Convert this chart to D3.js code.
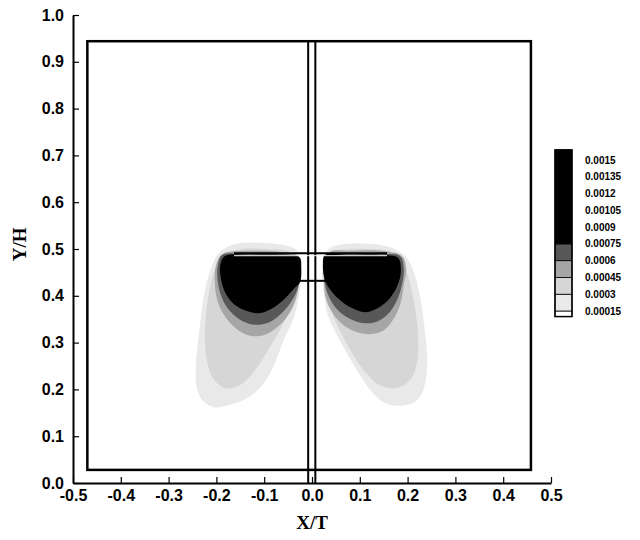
<!DOCTYPE html>
<html><head><meta charset="utf-8">
<script src="https://cdn.jsdelivr.net/npm/d3@7"></script>
<style>body{margin:0;background:#fff}svg{display:block}</style>
</head><body>
<svg id="c" width="640" height="540"></svg>
<script>
// ---- data ----
const xTickValues = [-0.5,-0.4,-0.3,-0.2,-0.1,0.0,0.1,0.2,0.3,0.4,0.5];
const yTickValues = [0.0,0.1,0.2,0.3,0.4,0.5,0.6,0.7,0.8,0.9,1.0];
const legendLevels = [0.00015,0.0003,0.00045,0.0006,0.00075,0.0009,0.00105,0.0012,0.00135,0.0015];
const legendLabels = ["0.00015","0.0003","0.00045","0.0006","0.00075","0.0009","0.00105","0.0012","0.00135","0.0015"];
const legendRange = [0.0001,0.00159];
const fillLevels = [0.00015,0.0003,0.00045,0.0006,0.00075];
const fillColors = ["#e9e9e9","#d6d6d6","#a6a6a6","#585858","#000000"];

// domain geometry (X/T, Y/H)
const domainBox = [[-0.47,0.028],[0.458,0.944]];
const slotX = [-0.008,0.007];
const slotY = [0.0,0.944];
const bladeTop = {x:[-0.163,0.157], y:0.491};
const bladeLow = {x:[-0.029,0.031], y:0.432};

// contour outlines, one per level (>= fillLevels[i])
const leftL1 = [[-0.167,0.509],[-0.197,0.489],[-0.211,0.459],[-0.224,0.412],[-0.232,0.359],[-0.238,0.306],[-0.243,0.252],[-0.241,0.203],[-0.228,0.175],[-0.205,0.162],[-0.172,0.167],[-0.134,0.182],[-0.096,0.220],[-0.075,0.263],[-0.059,0.306],[-0.040,0.348],[-0.029,0.391],[-0.023,0.434],[-0.023,0.472],[-0.033,0.498],[-0.077,0.511]];
const leftL2 = [[-0.159,0.498],[-0.188,0.481],[-0.205,0.451],[-0.215,0.408],[-0.222,0.359],[-0.224,0.310],[-0.220,0.263],[-0.207,0.224],[-0.182,0.203],[-0.151,0.209],[-0.119,0.241],[-0.092,0.284],[-0.067,0.327],[-0.046,0.370],[-0.033,0.408],[-0.027,0.444],[-0.029,0.476],[-0.046,0.494],[-0.098,0.500]];
const leftL3 = [[-0.188,0.489],[-0.201,0.464],[-0.203,0.423],[-0.197,0.387],[-0.180,0.353],[-0.155,0.327],[-0.126,0.314],[-0.096,0.318],[-0.067,0.338],[-0.046,0.365],[-0.033,0.395],[-0.027,0.425],[-0.025,0.459],[-0.029,0.485],[-0.067,0.494],[-0.130,0.496]];
const leftL4 = [[-0.188,0.487],[-0.197,0.464],[-0.197,0.429],[-0.188,0.395],[-0.172,0.368],[-0.146,0.346],[-0.117,0.338],[-0.088,0.344],[-0.063,0.363],[-0.044,0.387],[-0.031,0.412],[-0.025,0.444],[-0.025,0.481],[-0.056,0.489],[-0.130,0.489]];
const leftL5 = [[-0.182,0.485],[-0.192,0.464],[-0.190,0.434],[-0.180,0.404],[-0.163,0.382],[-0.138,0.368],[-0.109,0.363],[-0.082,0.374],[-0.056,0.395],[-0.036,0.417],[-0.025,0.429],[-0.023,0.466],[-0.027,0.483],[-0.067,0.487],[-0.130,0.487]];
const rightL1 = [[0.071,0.511],[0.038,0.502],[0.023,0.481],[0.021,0.444],[0.025,0.402],[0.033,0.359],[0.052,0.316],[0.075,0.274],[0.100,0.231],[0.126,0.194],[0.153,0.171],[0.188,0.165],[0.218,0.175],[0.234,0.203],[0.241,0.252],[0.238,0.306],[0.232,0.359],[0.224,0.408],[0.213,0.451],[0.197,0.483],[0.167,0.502],[0.121,0.511]];
const rightL2 = [[0.075,0.500],[0.044,0.494],[0.029,0.472],[0.029,0.434],[0.036,0.391],[0.046,0.353],[0.065,0.312],[0.088,0.271],[0.113,0.235],[0.142,0.209],[0.176,0.203],[0.205,0.220],[0.220,0.259],[0.222,0.306],[0.218,0.359],[0.209,0.408],[0.199,0.449],[0.184,0.476],[0.159,0.496],[0.117,0.500]];
const rightL3 = [[0.038,0.494],[0.027,0.472],[0.025,0.434],[0.029,0.395],[0.042,0.365],[0.063,0.340],[0.092,0.323],[0.121,0.318],[0.151,0.327],[0.172,0.353],[0.186,0.387],[0.192,0.423],[0.197,0.459],[0.188,0.485],[0.142,0.496],[0.079,0.496]];
const rightL4 = [[0.031,0.489],[0.025,0.472],[0.025,0.438],[0.033,0.404],[0.050,0.374],[0.075,0.353],[0.105,0.342],[0.134,0.344],[0.159,0.361],[0.178,0.391],[0.188,0.423],[0.192,0.459],[0.184,0.485],[0.142,0.489],[0.079,0.489]];
const rightL5 = [[0.027,0.487],[0.023,0.468],[0.027,0.434],[0.042,0.408],[0.063,0.387],[0.088,0.372],[0.113,0.365],[0.138,0.374],[0.163,0.395],[0.180,0.425],[0.186,0.455],[0.180,0.481],[0.142,0.487],[0.079,0.487]];
const leftLevels = [leftL1,leftL2,leftL3,leftL4,leftL5];
const rightLevels = [rightL1,rightL2,rightL3,rightL4,rightL5];

// ---- drawing ----
const svg = d3.select("#c");
const x = d3.scaleLinear().domain([-0.5,0.5]).range([73,551]);
const y = d3.scaleLinear().domain([0,1]).range([483,15]);
const line = d3.line().x(d=>x(d[0])).y(d=>y(d[1])).curve(d3.curveCatmullRomClosed.alpha(0.5));

const gBlobs = svg.append("g");
[leftLevels,rightLevels].forEach(levels=>{
  levels.forEach((poly,i)=>{
    gBlobs.append("path").attr("d",line(poly)).attr("fill",fillColors[i]).attr("stroke","none");
  });
});

// geometry lines
const gGeom = svg.append("g").attr("fill","none").attr("stroke","#000");
gGeom.append("rect")
  .attr("x",x(domainBox[0][0])).attr("y",y(domainBox[1][1]))
  .attr("width",x(domainBox[1][0])-x(domainBox[0][0]))
  .attr("height",y(domainBox[0][1])-y(domainBox[1][1]))
  .attr("stroke-width",2.5);
slotX.forEach(sx=>{
  gGeom.append("line").attr("x1",x(sx)).attr("x2",x(sx)).attr("y1",y(slotY[0])).attr("y2",y(slotY[1])).attr("stroke-width",2);
});
gGeom.append("line").attr("x1",x(bladeTop.x[0])).attr("x2",x(bladeTop.x[1])).attr("y1",y(bladeTop.y)).attr("y2",y(bladeTop.y)).attr("stroke-width",2);
gGeom.append("line").attr("x1",x(bladeTop.x[0])).attr("x2",x(bladeTop.x[1])).attr("y1",y(bladeTop.y)+2.5).attr("y2",y(bladeTop.y)+2.5).attr("stroke","#fff").attr("stroke-width",1);
gGeom.append("line").attr("x1",x(bladeLow.x[0])).attr("x2",x(bladeLow.x[1])).attr("y1",y(bladeLow.y)).attr("y2",y(bladeLow.y)).attr("stroke-width",2);

// axes
const fmt = d=>d.toFixed(1);
const minorX = d3.range(-0.5,0.5001,0.02);
const minorY = d3.range(0,1.0001,0.02);
const gx = svg.append("g").attr("transform",`translate(0,${y(0)})`);
gx.call(d3.axisBottom(x).tickValues(minorX).tickSizeInner(-3).tickSizeOuter(0).tickFormat(""));
gx.call(d3.axisBottom(x).tickValues(xTickValues).tickSizeInner(-6).tickSizeOuter(0).tickPadding(7).tickFormat(fmt));
const gy = svg.append("g").attr("transform",`translate(${x(-0.5)},0)`);
gy.call(d3.axisLeft(y).tickValues(minorY).tickSizeInner(-3).tickSizeOuter(0).tickFormat(""));
gy.call(d3.axisLeft(y).tickValues(yTickValues).tickSizeInner(-6).tickSizeOuter(0).tickPadding(9).tickFormat(fmt));
svg.selectAll(".domain").attr("stroke-width",2);
svg.selectAll(".tick line").attr("stroke-width",1.2);
svg.selectAll(".tick text").attr("font-family","'Liberation Sans',Arial,sans-serif").attr("font-weight","bold").attr("font-size",16).attr("fill","#000");

svg.append("text").attr("x",x(0)).attr("y",529).attr("text-anchor","middle")
  .attr("font-family","'Liberation Serif','Times New Roman',serif").attr("font-weight","bold").attr("font-size",19).text("X/T");
svg.append("text").attr("transform",`translate(26,${y(0.51)}) rotate(-90)`).attr("text-anchor","middle")
  .attr("font-family","'Liberation Serif','Times New Roman',serif").attr("font-weight","bold").attr("font-size",19).text("Y/H");

// legend
const ly = d3.scaleLinear().domain([0.00015,0.0015]).range([311,160]);
const lx0 = 555, lw = 17;
const gl = svg.append("g");
const bands = [[legendRange[0],fillLevels[0],"#ffffff"]];
fillLevels.forEach((lv,i)=>bands.push([lv, i<fillLevels.length-1?fillLevels[i+1]:legendRange[1], fillColors[i]]));
gl.selectAll("rect.band").data(bands).enter().append("rect")
  .attr("x",lx0).attr("width",lw)
  .attr("y",d=>ly(d[1])).attr("height",d=>ly(d[0])-ly(d[1]))
  .attr("fill",d=>d[2]).attr("stroke","#000").attr("stroke-width",0.8);
gl.append("rect").attr("x",lx0).attr("width",lw).attr("y",ly(legendRange[1])).attr("height",ly(legendRange[0])-ly(legendRange[1]))
  .attr("fill","none").attr("stroke","#000").attr("stroke-width",1.5);
gl.selectAll("text").data(legendLevels).enter().append("text")
  .attr("x",585).attr("y",d=>ly(d)).attr("dy","0.35em")
  .attr("font-family","'Liberation Sans',Arial,sans-serif").attr("font-weight","bold").attr("font-size",10)
  .text((d,i)=>legendLabels[i]);
</script>
</body></html>
